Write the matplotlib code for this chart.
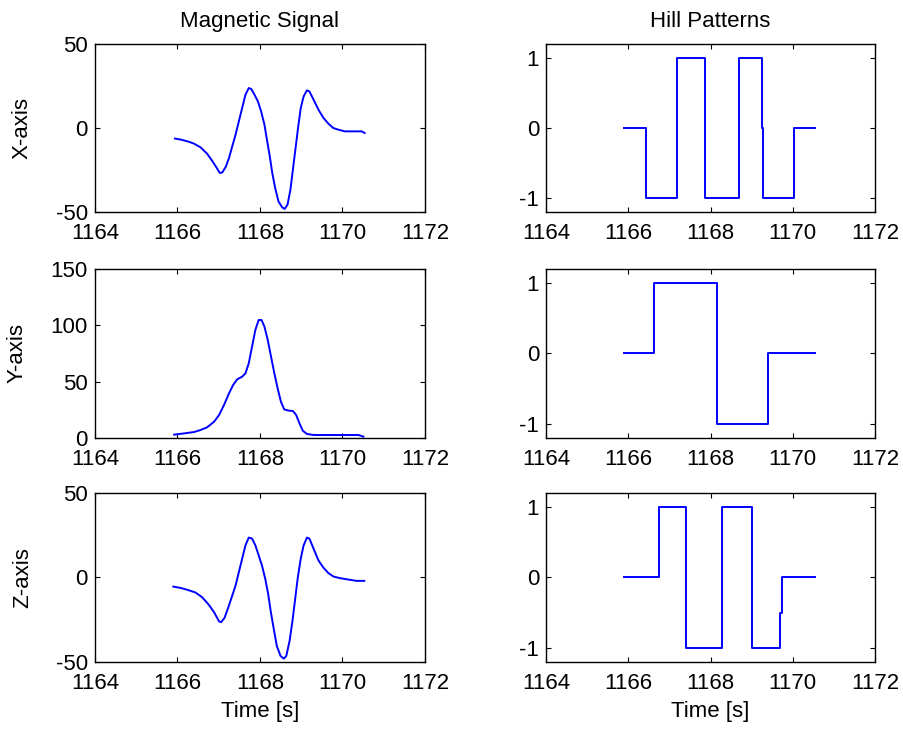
import matplotlib
matplotlib.use('Agg')
import matplotlib.pyplot as plt

plt.rcParams['font.family'] = ['Liberation Sans', 'DejaVu Sans']
plt.rcParams['font.size'] = 16
plt.rcParams['axes.unicode_minus'] = False

# magnetic signal, x component
mag_x_t = [1165.94, 1166.08, 1166.24, 1166.40, 1166.56, 1166.72, 1166.85, 1166.97, 1167.03, 1167.09,
           1167.17, 1167.25, 1167.33, 1167.41, 1167.49, 1167.57, 1167.65, 1167.73, 1167.79, 1167.87,
           1167.95, 1168.03, 1168.11, 1168.17, 1168.24, 1168.30, 1168.37, 1168.45, 1168.54, 1168.60,
           1168.67, 1168.74, 1168.80, 1168.87, 1168.93, 1168.99, 1169.06, 1169.14, 1169.20, 1169.30,
           1169.42, 1169.54, 1169.66, 1169.78, 1169.90, 1170.06, 1170.27, 1170.47, 1170.54]
mag_x = [-6.3, -6.9, -7.9, -9.3, -11.5, -15.3, -19.8, -24.4, -26.8, -26.4,
         -23.2, -17.9, -10.9, -4.0, 4.0, 11.9, 19.8, 23.8, 23.2, 19.8,
         15.9, 9.9, 2.0, -6.9, -16.9, -26.8, -35.7, -43.7, -47.2, -48.2,
         -45.6, -36.7, -24.8, -10.9, 1.0, 11.9, 18.8, 22.4, 21.8, 16.9,
         10.9, 6.0, 2.6, 0.0, -1.0, -2.0, -2.0, -2.0, -3.0]

# magnetic signal, y component
mag_y_t = [1165.92, 1166.16, 1166.40, 1166.56, 1166.72, 1166.89, 1167.01, 1167.13, 1167.25, 1167.35,
           1167.45, 1167.57, 1167.65, 1167.73, 1167.81, 1167.89, 1167.97, 1168.04, 1168.11, 1168.19,
           1168.27, 1168.35, 1168.43, 1168.51, 1168.59, 1168.70, 1168.80, 1168.88, 1168.96, 1169.04,
           1169.14, 1169.30, 1169.78, 1170.39, 1170.51]
mag_y = [3.0, 4.1, 5.3, 7.1, 9.5, 14.5, 20.4, 29.3, 39.6, 47.0,
         52.1, 54.4, 57.4, 66.3, 81.1, 95.9, 104.7, 104.7, 98.8, 87.0,
         72.2, 57.4, 44.1, 32.2, 25.4, 24.3, 24.0, 20.4, 13.0, 6.5,
         3.6, 2.7, 2.7, 2.7, 1.2]

# magnetic signal, z component
mag_z_t = [1165.90, 1166.08, 1166.24, 1166.44, 1166.60, 1166.76, 1166.89, 1167.01, 1167.06, 1167.14,
           1167.22, 1167.33, 1167.41, 1167.49, 1167.57, 1167.65, 1167.73, 1167.81, 1167.89, 1167.97,
           1168.05, 1168.13, 1168.20, 1168.26, 1168.33, 1168.41, 1168.50, 1168.58, 1168.64, 1168.72,
           1168.79, 1168.86, 1168.92, 1168.99, 1169.06, 1169.14, 1169.20, 1169.30, 1169.42, 1169.54,
           1169.66, 1169.78, 1169.94, 1170.14, 1170.34, 1170.53]
mag_z = [-5.4, -6.2, -7.3, -8.9, -11.7, -16.1, -20.6, -26.0, -26.4, -24.0,
         -18.7, -10.7, -4.8, 3.2, 11.1, 19.0, 23.6, 23.0, 19.0, 13.1,
         7.1, -0.8, -9.7, -19.6, -29.6, -40.5, -46.4, -48.0, -46.4, -37.5,
         -25.6, -11.7, 0.2, 11.1, 19.0, 23.6, 23.0, 17.1, 10.1, 5.8,
         2.6, 0.6, -0.4, -1.2, -2.0, -2.0]

# hill patterns (step changes)
hill_x_t = [1165.9, 1166.44, 1167.18, 1167.87, 1168.69, 1169.26, 1169.28, 1170.04, 1170.54]
hill_x = [0, -1, 1, -1, 1, 0, -1, 0, 0]
hill_y_t = [1165.9, 1166.62, 1168.15, 1169.4, 1170.55]
hill_y = [0, 1, -1, 0, 0]
hill_z_t = [1165.9, 1166.75, 1167.4, 1168.27, 1169.0, 1169.7, 1169.74, 1170.55]
hill_z = [0, 1, -1, 1, -1, -0.5, 0, 0]

row_labels = ['X-axis', 'Y-axis', 'Z-axis']
mag_ylims = [(-50, 50), (0, 150), (-50, 50)]
mag_yticks = [[-50, 0, 50], [0, 50, 100, 150], [-50, 0, 50]]
xticks = [1164, 1166, 1168, 1170, 1172]

fig = plt.figure(figsize=(9.04, 7.32), dpi=100)

rows = [(0.7104, 0.2295), (0.4016, 0.231), (0.0956, 0.231)]
ylab_x = [-0.188, -0.203, -0.188]

mags = [(mag_x_t, mag_x), (mag_y_t, mag_y), (mag_z_t, mag_z)]
hills = [(hill_x_t, hill_x), (hill_y_t, hill_y), (hill_z_t, hill_z)]


def style(ax):
    ax.tick_params(direction='in', top=True, right=True, length=3.6, width=0.8, pad=5)
    ax.tick_params(axis='x', pad=8)
    for s in ax.spines.values():
        s.set_linewidth(1.0)
    ax.set_xlim(1164, 1172)
    ax.set_xticks(xticks)


for i in range(3):
    b, h = rows[i]
    ax = fig.add_axes([0.105, b, 0.365, h])
    t, v = mags[i]
    ax.plot(t, v, color='#0000ff', lw=1.4)
    style(ax)
    ax.set_ylim(*mag_ylims[i])
    ax.set_yticks(mag_yticks[i])
    ax.set_ylabel(row_labels[i])
    ax.yaxis.set_label_coords(ylab_x[i], 0.5)
    if i == 0:
        ax.set_title('Magnetic Signal', pad=12, fontsize=16)
    if i == 2:
        ax.set_xlabel('Time [s]', labelpad=5)

    ax2 = fig.add_axes([0.604, b, 0.364, h])
    t, v = hills[i]
    ax2.step(t, v, where='post', color='#0000ff', lw=1.4)
    style(ax2)
    ax2.set_ylim(-1.2, 1.2)
    ax2.set_yticks([-1, 0, 1])
    if i == 0:
        ax2.set_title('Hill Patterns', pad=12, fontsize=16)
    if i == 2:
        ax2.set_xlabel('Time [s]', labelpad=5)

plt.savefig('out.png', dpi=100)
